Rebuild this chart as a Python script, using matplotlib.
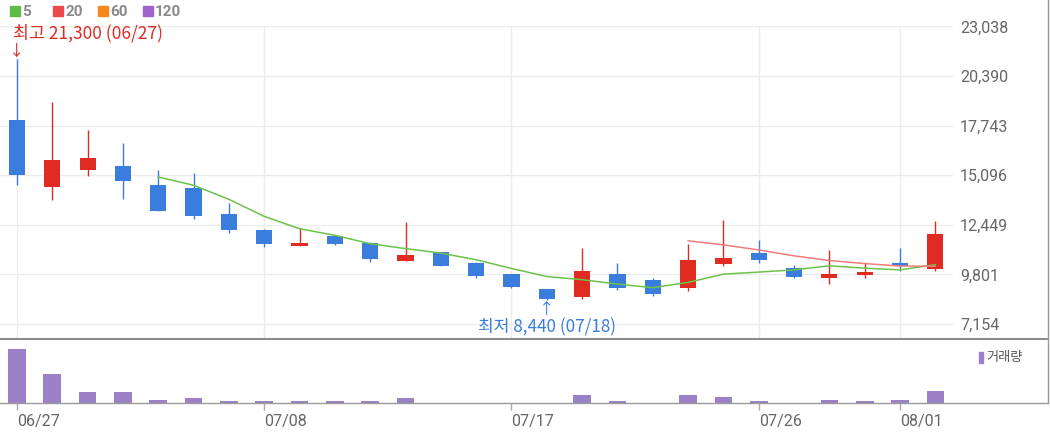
import numpy as np
import matplotlib
matplotlib.use('Agg')
import matplotlib.pyplot as plt
from matplotlib.lines import Line2D
from matplotlib.patches import Rectangle

# daily candles, 06/27 - 08/02
dates = ['06/27', '06/28', '07/01', '07/02', '07/03', '07/04', '07/05', '07/08', '07/09',
         '07/10', '07/11', '07/12', '07/15', '07/16', '07/17', '07/18', '07/19', '07/22',
         '07/23', '07/24', '07/25', '07/26', '07/29', '07/30', '07/31', '08/01', '08/02']
opens = [18050, 14450, 15350, 15600, 14550, 14400, 13050, 12150, 11300, 11850, 11500, 10500,
         11000, 10400, 9800, 9020, 8600, 9820, 9520, 9060, 10350, 10950, 10150, 9600, 9750,
         10400, 10100]
highs = [21300, 19000, 17500, 16800, 15400, 15200, 13600, 12250, 12300, 11900, 11520, 12600,
         11020, 10480, 9810, 9030, 11200, 10400, 9620, 11450, 12700, 11650, 10300, 11100, 10400,
         11200, 12650]
lows = [14550, 13750, 15050, 13850, 13200, 12750, 12000, 11250, 11300, 11350, 10480, 10500,
        10250, 9600, 9050, 8440, 8480, 8970, 8650, 8900, 10250, 10420, 9600, 9270, 9600,
        9980, 9990]
closes = [15100, 15900, 16000, 14800, 13200, 12900, 12150, 11450, 11500, 11450, 10650, 10850,
          10250, 9710, 9140, 8500, 10000, 9090, 8740, 10550, 10700, 10550, 9680, 9830, 9910,
          10250, 11950]
nan = np.nan
ma5 = [nan, nan, nan, nan, 15000, 14560, 13810, 12900, 12240, 11890, 11440, 11180, 10940,
       10582, 10120, 9690, 9520, 9288, 9094, 9376, 9816, 9926, 10044, 10262, 10134, 10044, 10324]
ma20 = [nan] * 19 + [11597, 11377, 11109, 10793, 10545, 10380, 10248, 10238]
volume = [4620000, 2440000, 910000, 910000, 280000, 400000, 145000, 145000, 145000, 145000,
          145000, 450000, 3000, 3000, 3000, 3000, 680000, 170000, 3000, 680000, 540000,
          145000, 3000, 280000, 145000, 280000, 1050000]

price_ticks = [7154, 9801, 12449, 15096, 17743, 20390, 23038]
date_ticks = ['06/27', '07/08', '07/17', '07/26', '08/01']

RED = '#e02b22'
BLUE = '#3b7ddd'
W, H = 1050, 434


def fx(px):
    return px / W


def fy(py):
    return 1 - py / H


fig = plt.figure(figsize=(10.5, 4.34), dpi=100)
ax = fig.add_axes([0, fy(338), fx(953), (338 - 26) / H])
axv = fig.add_axes([0, fy(403), fx(953), (403 - 340) / H])

x = np.arange(len(dates))
o = np.array(opens)
c = np.array(closes)
cols = np.where(c >= o, RED, BLUE)

# candles
ax.vlines(x, lows, highs, colors=cols, lw=1.0, zorder=2)
ax.bar(x, np.abs(c - o), bottom=np.minimum(o, c), width=0.46, color=cols, zorder=3)
ax.plot(x, ma5, color='#6cc24a', lw=1.1, zorder=4)
ax.plot(x, ma20, color='#f07c7c', lw=1.1, zorder=4)

ax.set_xlim(-0.481, 26.5)
ax.set_ylim(6408, 23060)
ax.set_yticks(price_ticks)
ax.set_yticklabels([f'{v:,}' for v in price_ticks])
ax.yaxis.tick_right()
ax.tick_params(axis='y', length=0, pad=5, labelsize=11.5, labelcolor='#666666')
for t in ax.get_yticklabels():
    t.set_family('Roboto')
ax.set_xticks([dates.index(d) for d in date_ticks])
ax.tick_params(axis='x', length=0, labelbottom=False)
ax.grid(True, color='#ececec', lw=1)
for s in ax.spines.values():
    s.set_visible(False)

# highest / lowest marks
kfont = ['Noto Sans CJK KR', 'DejaVu Sans']
hi = int(np.argmax(highs))
lo = int(np.argmin(lows))
ax.annotate('↓', xy=(hi, highs[hi]), xytext=(0, 8), textcoords='offset pixels',
            ha='center', va='center', color=RED, fontsize=11, family=kfont)
ax.annotate(f'최고 {highs[hi]:,} ({dates[hi]})', xy=(hi, highs[hi]), xytext=(-4, 26),
            textcoords='offset pixels', ha='left', va='center', color=RED,
            fontsize=12.5, family=kfont)
ax.annotate('↑', xy=(lo, lows[lo]), xytext=(0, -10), textcoords='offset pixels',
            ha='center', va='center', color=BLUE, fontsize=11, family=kfont)
ax.annotate(f'최저 {lows[lo]:,} ({dates[lo]})', xy=(lo, lows[lo]), xytext=(0, -27),
            textcoords='offset pixels', ha='center', va='center', color=BLUE,
            fontsize=12.3, family=kfont, annotation_clip=False)

# volume
axv.bar(x, volume, width=0.5, color='#9b82c6', zorder=2)
axv.set_xlim(-0.481, 26.5)
axv.set_ylim(0, 5360000)
axv.set_yticks([])
axv.set_xticks([dates.index(d) for d in date_ticks])
axv.set_xticklabels(date_ticks, family='Roboto', ha='left')
axv.tick_params(axis='x', length=5, width=1, color='#aaaaaa', pad=3,
                labelsize=11.5, labelcolor='#666666')
for s in axv.spines.values():
    s.set_visible(False)

# frame lines
fig.add_artist(Line2D([0, fx(1048)], [fy(338.5), fy(338.5)], color='#8c8c8c', lw=1.5))
fig.add_artist(Line2D([0, fx(1048)], [fy(403), fy(403)], color='#9a9a9a', lw=1))
fig.add_artist(Line2D([fx(1048), fx(1048)], [fy(0), fy(403)], color='#9a9a9a', lw=1))

# MA legend
for lab, col, px in [('5', '#5dbb46', 10), ('20', '#e84b4b', 53), ('60', '#f5891f', 98),
                     ('120', '#a062cf', 143)]:
    fig.add_artist(Rectangle((fx(px), fy(16)), 10 / W, 10 / H, transform=fig.transFigure,
                             color=col))
    fig.text(fx(px + 12), fy(11.5), lab, ha='left', va='center', fontsize=11,
             fontweight='bold', color='#8a8a8a', family='Roboto')

fig.add_artist(Rectangle((fx(979), fy(363)), 4 / W, 11 / H, transform=fig.transFigure,
                         color='#9b82c6'))
fig.text(fx(986), fy(357.5), '거래량', ha='left', va='center', fontsize=9.5,
         color='#555555', family=kfont)

fig.savefig('out.png', dpi=100)
